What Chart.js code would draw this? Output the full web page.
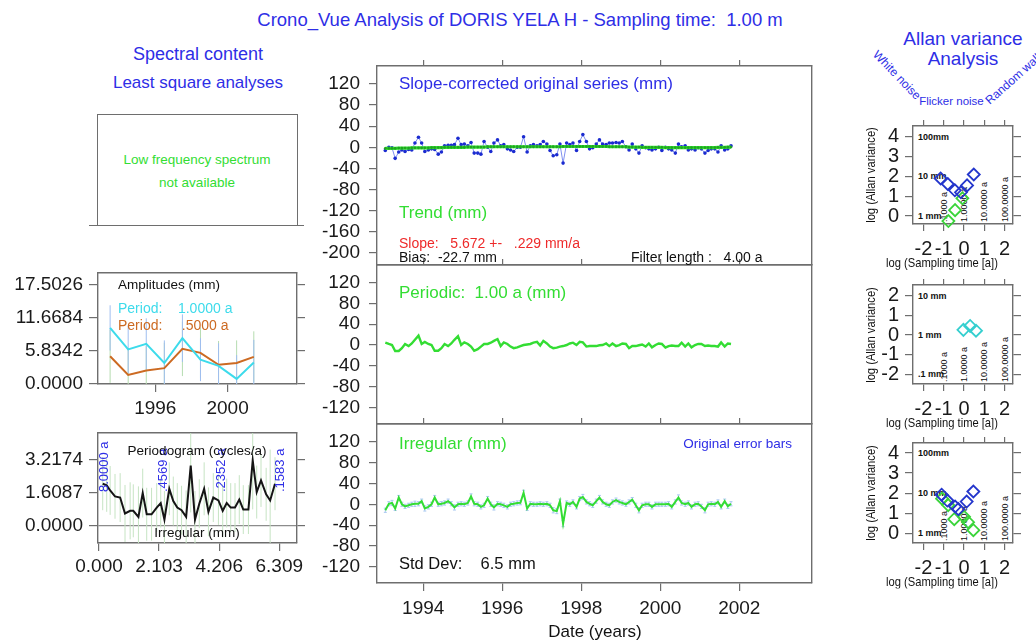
<!DOCTYPE html>
<html><head><meta charset="utf-8">
<script src="https://cdn.jsdelivr.net/npm/chart.js@4.4.1/dist/chart.umd.min.js"></script>
<style>
html,body{margin:0;padding:0;background:#fff;}
body{position:relative;width:1036px;height:641px;overflow:hidden;}
</style></head><body>
<script>
// ---------------- DATA ----------------
const DATES = [
1993.04,1993.13,1993.21,1993.29,1993.38,1993.46,1993.54,1993.63,1993.71,1993.79,1993.88,1993.96,
1994.04,1994.13,1994.21,1994.29,1994.38,1994.46,1994.54,1994.63,1994.71,1994.79,1994.88,1994.96,
1995.04,1995.13,1995.21,1995.29,1995.38,1995.46,1995.54,1995.63,1995.71,1995.79,1995.88,1995.96,
1996.04,1996.13,1996.21,1996.29,1996.38,1996.46,1996.54,1996.63,1996.71,1996.79,1996.88,1996.96,
1997.04,1997.13,1997.21,1997.29,1997.38,1997.46,1997.54,1997.63,1997.71,1997.79,1997.88,1997.96,
1998.04,1998.13,1998.21,1998.29,1998.38,1998.46,1998.54,1998.63,1998.71,1998.79,1998.88,1998.96,
1999.04,1999.13,1999.21,1999.29,1999.38,1999.46,1999.54,1999.63,1999.71,1999.79,1999.88,1999.96,
2000.04,2000.13,2000.21,2000.29,2000.38,2000.46,2000.54,2000.63,2000.71,2000.79,2000.88,2000.96,
2001.04,2001.13,2001.21,2001.29,2001.38,2001.46,2001.54,2001.63,2001.71,2001.79];

const ORIGINAL = [-6,0,-1,-21,-9,-5,-8,-4,-5,8, 19,8,-8,-5,-3,-4,-13,-9,3,4, 4,5,17,5,6,3,9,-11,-11,-13,
 11,0,-8,8,14,3,5,-3,-5,-8, 0,0,20,-9,3,5,3,5,11,6, -6,-16,-14,6,-30,8,5,8,-6,11,
 24,11,-3,-1,6,14,6,5,8,8, 9,8,11,1,-5,6,-3,-11,3,-1, -3,-5,-3,0,-6,0,-3,-5,-11,6,
 1,3,-5,-3,-5,-1,-3,-11,-6,-3, -3,-9,3,-5,-3,3];

const TREND = [-2,-2,-2,-2,-1.5,-1.5,-1.5,-1.5,-1,-1,-1,-1,
 -1,-1,-0.5,-0.5,-0.5,-0.5,0,0,0,0,0,0,
 0,0.5,0.5,0.5,0.5,0.5,0.5,1,1,1,1,1,
 1,1,1,1,1,1,1,1,1,1,1,1,
 1,1,1,1,1,1,1.5,1.5,1.5,1.5,1.5,1.5,
 1.5,1.5,1.5,1.5,1.5,1.5,1.5,1.5,1,1,1,1,
 1,1,0.5,0.5,0.5,0.5,0,0,0,0,0,0,
 0,-0.5,-0.5,-0.5,-0.5,-0.5,-0.5,-0.5,-0.5,-0.5,-0.5,-0.5,
 -0.5,-0.5,-0.5,-0.5,-0.5,0,0,0,0.5,0.5];

const PERIODIC = [4.5,2,0,-11.5,-11.5,-6,2,-2,3,10, 18,2,6,2,0,-11,-11,-6,2,-2,
 3,10,17,0,5,2,-3,-11,-8,-3, 2,2,4.5,8,11.5,-2,5,2,-3,-6,
 -4.5,-2,0,1,2,4.5,6,-1,8,3, -3,-6,-5,-3,-2,0,3,4.5,0,6,
 5,-3,-2,-2,-2,-0.5,0,3,-2,3, -2,0,3,2,-6,-2,-2,-0.5,1,-3,
 3,-4.5,0,3,2,-5,-2,-1,-2,-2, 4.5,-3,3,-4.5,0,2,2,-2,-1,-2,
 -2,-3,5,-3,3,2];

const IRREGULAR = [-11.5,1,2.5,-8,13,0,-4,-2,0,1, 1,6,-8,-5,0,13,0,1,2.5,6,
 1,-6,0,1,0,2.5,15,1,0,-5, -2,11,0,-6,1,0,-2,-5,0,1,
 2.5,3,22,-8,1,0,0,1,0,1, -2,-11.5,-13,6,-37,2.5,0,4.5,-5,11,
 14,4.5,1,-2,6,13,4.5,0,-2,4.5, 8,4.5,2.5,0,4.5,9,-2,-11.5,-2,0,
 0,-5,0,0,0,0,1,-5,4.5,13, 2.5,0,2.5,-5,0,1,-4,-11.5,0,1,
 0,4.5,-5,6,-4,1];

const IRREGULAR_ERR = [4,4,5,4,4,4,4,4,4,5, 4,4,5,4,4,4,4,4,4,4, 4,5,4,4,4,4,5,4,4,4,
 4,4,4,5,4,4,4,4,4,4, 4,4,5,4,4,4,4,4,4,4, 4,5,5,4,6,4,4,4,4,4,
 5,4,4,4,4,4,4,4,4,4, 4,4,4,4,4,4,4,5,4,4, 4,4,4,4,4,4,4,4,4,5,
 4,4,4,4,4,4,4,5,4,4, 4,4,4,4,4,4];

// Amplitudes panel
const AMP_DATES = [1993.5,1994.5,1995.5,1996.5,1997.5,1998.5,1999.5,2000.5,2001.45];
const AMP_1Y = [9.9,6.1,7.1,3.7,8.1,4.3,3.2,0.9,3.8];
const AMP_1Y_ERR = [4.0,4.2,4.5,4.0,4.2,3.8,4.0,4.2,4.0];
const AMP_HALFY = [4.9,1.6,2.4,2.8,6.2,5.5,3.4,3.7,4.8];
const AMP_HALFY_ERR = [4.7,4.5,4.3,4.5,4.8,4.5,4.2,4.0,4.5];
const AMP_YTICKS = [0, 5.8342, 11.6684, 17.5026];
const AMP_XTICKS = [1996, 2000];

// Periodogram panel
const PG_FREQ = [0.13,0.27,0.39,0.56,0.74,0.91,1.09,1.2,1.38,1.53,1.67,1.84,2.02,2.16,2.29,2.46,2.6,2.74,2.89,3.05,
 3.21,3.36,3.51,3.68,3.83,4.0,4.18,4.33,4.47,4.61,4.76,4.91,5.05,5.23,5.38,5.52,5.67,5.85,5.99,6.16];
const PG_VAL = [2.05,1.97,1.72,1.43,1.37,0.59,0.72,0.72,0.42,1.59,0.55,0.55,0.88,1.1,0.29,1.8,1.2,0.88,0.75,0.42,
 2.94,0.29,1.07,1.8,0.67,1.37,1.23,0.72,1.1,0.88,0.88,1.27,0.78,0.78,3.19,1.64,2.21,1.53,1.23,2.05];
const PG_ERR = [1.3,1.3,1.2,1.1,1.2,1.4,1.4,1.3,1.5,1.2,1.3,1.3,1.2,1.2,1.4,1.3,1.2,1.2,1.2,1.3,
 2.3,1.4,1.2,1.3,1.2,1.2,1.2,1.3,1.2,1.2,1.2,1.2,1.2,1.2,2.4,1.3,1.3,1.3,2.5,1.3];
const PG_YTICKS = [0, 1.6087, 3.2174];
const PG_XTICKS = [0, 2.103, 4.206, 6.309];
const PG_MARKS = [[0.125,'8.0000 a'],[2.189,'.4569 a'],[4.252,'.2352 a'],[6.317,'.1583 a']];

// Main panels
const YEAR_TICKS = [1994,1996,1998,2000,2002];
const TOP_YTICKS = [120,80,40,0,-40,-80,-120,-160,-200];
const MID_YTICKS = [120,80,40,0,-40,-80,-120];

// Allan variance panels
const ALLAN_XTICKS = [-2,-1,0,1,2];
const ALLAN_YTICKS_A = [0,1,2,3,4];
const ALLAN_YTICKS_B = [-2,-1,0,1,2];
const ALLAN1_BLUE_X = [-1.15,-0.8,-0.45,-0.15,0.15,0.48];
const ALLAN1_BLUE_Y = [1.9,1.62,1.3,1.2,1.55,2.1];
const ALLAN1_GREEN_X = [-0.77,-0.44,-0.08];
const ALLAN1_GREEN_Y = [-0.25,0.3,0.9];
const ALLAN2_CYAN_X = [-0.03,0.3,0.59];
const ALLAN2_CYAN_Y = [0.26,0.46,0.22];
const ALLAN3_BLUE_X = [-1.1,-0.82,-0.44,-0.28,0.13,0.46];
const ALLAN3_BLUE_Y = [1.92,1.63,1.33,1.2,1.58,2.08];
const ALLAN3_GREEN_X = [-1.08,-0.78,-0.48,0.0,0.2,0.46];
const ALLAN3_GREEN_Y = [1.72,1.4,0.7,0.82,0.55,0.15];
const ALLAN_MM_A = [[4,'100mm'],[2,'10 mm'],[0,'1 mm']];
const ALLAN_MM_B = [[2,'10 mm'],[0,'1 mm'],[-2,'.1 mm']];
const ALLAN_PERIODS = [[-1,'.1000 a'],[0,'1.0000 a'],[1,'10.0000 a'],[2,'100.0000 a']];

// ---------------- STYLE / HELPERS ----------------
const FONT = "'Liberation Sans', Arial, Helvetica, sans-serif";
const FRAME = '#6e6e6e';
const BLUE = '#2e2ee6';
const GREEN = '#33dd33';

function T(s, x, y, o = {}) {
  const d = document.createElement('div');
  d.textContent = s;
  d.style.cssText = `position:absolute;left:${x}px;top:${y}px;white-space:pre;font-family:${FONT};` +
    `font-size:${o.fs || 14}px;color:${o.c || '#111'};line-height:1;font-weight:${o.fw || 'normal'};z-index:${o.z ?? 3};`;
  const ax = o.a === 'c' ? '-50%' : o.a === 'r' ? '-100%' : '0';
  d.style.transform = `translate(${ax},-50%)` + (o.rot ? ` rotate(${o.rot}deg)` : '') + (o.sx ? ` scaleX(${o.sx})` : '');
  document.body.appendChild(d);
  return d;
}
// text starting at (x,y) and running along angle deg (negative = upward)
function TR(s, x, y, deg, o = {}) {
  const d = document.createElement('div');
  d.textContent = s;
  d.style.cssText = `position:absolute;left:${x}px;top:${y}px;white-space:pre;font-family:${FONT};` +
    `font-size:${o.fs || 12}px;color:${o.c || '#111'};line-height:1;font-weight:${o.fw || 'normal'};z-index:${o.z ?? 3};` +
    `transform-origin:0 0;transform:rotate(${deg}deg) translate(0,-50%);`;
  document.body.appendChild(d);
  return d;
}

function mkAxis(pos, size, o) {
  const horiz = pos === 'top' || pos === 'bottom';
  const tl = o.tl || 0;
  return {
    type: 'linear', position: pos, min: o.min, max: o.max,
    afterFit(s) {
      if (horiz) s.height = size; else s.width = size;
      s.paddingLeft = 0; s.paddingRight = 0; s.paddingTop = 0; s.paddingBottom = 0;
    },
    afterBuildTicks(s) { s.ticks = (o.ticks || []).map(v => ({ value: v })); },
    border: { display: true, color: FRAME, width: 1.4 },
    grid: {
      drawOnChartArea: !!o.zeroLine,
      color: o.zeroLine ? (c => (c.tick && c.tick.value === 0) ? '#8c8c8c' : 'rgba(0,0,0,0)') : FRAME,
      drawTicks: tl > 0, tickLength: tl, tickColor: FRAME, lineWidth: 1.2
    },
    ticks: {
      display: !!o.labels, padding: o.pad ?? 6, color: '#1a1a1a',
      font: { family: FONT, size: o.fs || 19 }, maxRotation: 0, minRotation: 0, autoSkip: false,
      callback: o.fmt || (v => String(v))
    }
  };
}

function panel(rect, area, axes, datasets, plugins) {
  const [cx, cy, cw, ch] = rect;
  const cv = document.createElement('canvas');
  cv.width = cw; cv.height = ch;
  cv.style.cssText = `position:absolute;left:${cx}px;top:${cy}px;width:${cw}px;height:${ch}px;z-index:1;`;
  document.body.appendChild(cv);
  const [L, Tp, R, B] = area;
  const scales = {
    x: mkAxis('bottom', cy + ch - B, axes.x),
    x2: mkAxis('top', Tp - cy, axes.x2),
    y: mkAxis('left', L - cx, axes.y),
    y2: mkAxis('right', cx + cw - R, axes.y2)
  };
  const chart = new Chart(cv, {
    type: 'line',
    data: { datasets },
    options: {
      responsive: false, animation: false, devicePixelRatio: 1,
      layout: { padding: 0 },
      plugins: { legend: { display: false }, tooltip: { enabled: false } },
      scales
    },
    plugins: plugins || []
  });
  chart.$off = [cx, cy];
  return chart;
}

function pts(xs, ys) { return xs.map((x, i) => ({ x, y: ys[i] })); }

function errPlugin(sets) {
  return {
    id: 'errbars',
    beforeDatasetsDraw(chart) {
      const { ctx, chartArea: a } = chart;
      const xs = chart.scales.x, ys = chart.scales.y;
      ctx.save();
      ctx.beginPath(); ctx.rect(a.left, a.top, a.width, a.height); ctx.clip();
      for (const s of sets) {
        ctx.strokeStyle = s.color; ctx.lineWidth = s.w || 1;
        ctx.beginPath();
        s.xs.forEach((xv, i) => {
          const px = xs.getPixelForValue(xv);
          const y0 = ys.getPixelForValue(s.ys[i] - s.es[i]);
          const y1 = ys.getPixelForValue(s.ys[i] + s.es[i]);
          ctx.moveTo(px, y0); ctx.lineTo(px, y1);
          if (s.cap) {
            ctx.moveTo(px - s.cap, y0); ctx.lineTo(px + s.cap, y0);
            ctx.moveTo(px - s.cap, y1); ctx.lineTo(px + s.cap, y1);
          }
        });
        ctx.stroke();
      }
      ctx.restore();
    }
  };
}

// ---------------- MAIN TIME-SERIES PANELS ----------------
const XR = { min: 1992.83, max: 2003.84 };
const lineDs = (xs, ys, color, w, extra = {}) => Object.assign({
  data: pts(xs, ys), borderColor: color, borderWidth: w, pointRadius: 0, tension: 0, fill: false
}, extra);

// top: slope-corrected original series + trend
panel([300, 50, 530, 225], [377, 66, 812, 265], {
  x: Object.assign({ ticks: [] }, XR),
  x2: Object.assign({ ticks: YEAR_TICKS, tl: 6 }, XR),
  y: { min: -223, max: 154, ticks: TOP_YTICKS, labels: true, tl: 8, pad: 9 },
  y2: { min: -223, max: 154, ticks: [] }
}, [
  lineDs(DATES, TREND, GREEN, 3.2, { pointRadius: 1.4, pointBackgroundColor: '#1fa51f', pointBorderWidth: 0 }),
  lineDs(DATES, ORIGINAL, '#7f8ff0', 1, { pointRadius: 1.8, pointBackgroundColor: '#1b2bd0', pointBorderWidth: 0 })
]);

// middle: periodic
panel([300, 255, 530, 180], [377, 265, 812, 424], {
  x: Object.assign({ ticks: [] }, XR),
  x2: Object.assign({ ticks: YEAR_TICKS, tl: 6 }, XR),
  y: { min: -152, max: 154, ticks: MID_YTICKS, labels: true, tl: 8, pad: 9 },
  y2: { min: -152, max: 154, ticks: [] }
}, [ lineDs(DATES, PERIODIC, GREEN, 2.4) ]);

// bottom: irregular
panel([300, 414, 530, 227], [377, 424, 812, 583], {
  x: Object.assign({ ticks: YEAR_TICKS, labels: true, tl: 8, pad: 6 }, XR),
  x2: Object.assign({ ticks: YEAR_TICKS, tl: 6 }, XR),
  y: { min: -151, max: 154, ticks: MID_YTICKS, labels: true, tl: 8, pad: 9 },
  y2: { min: -151, max: 154, ticks: [] }
}, [ lineDs(DATES, IRREGULAR, GREEN, 2) ],
[ errPlugin([{ xs: DATES, ys: IRREGULAR, es: IRREGULAR_ERR, color: '#a9c8f0', w: 1, cap: 1.5 }]) ]);

// ---------------- LEFT SPECTRAL PANELS ----------------
(function () {
  const box = document.createElement('div');
  box.style.cssText = `position:absolute;left:97px;top:114px;width:199px;height:110px;border:1.4px solid ${FRAME};border-bottom:none;`;
  document.body.appendChild(box);
  const ln = document.createElement('div');
  ln.style.cssText = `position:absolute;left:89px;top:224.5px;width:215px;height:0;border-top:1.4px solid ${FRAME};`;
  document.body.appendChild(ln);
})();

panel([0, 262, 320, 164], [98, 273, 297, 384], {
  x: Object.assign({ ticks: AMP_XTICKS, labels: true, tl: 8, pad: 5 }, XR),
  x2: Object.assign({ ticks: [] }, XR),
  y: { min: 0, max: 19.6, ticks: AMP_YTICKS, labels: true, tl: 9, pad: 6, fmt: v => v.toFixed(4) },
  y2: { min: 0, max: 19.6, ticks: AMP_YTICKS, tl: 8 }
}, [
  lineDs(AMP_DATES, AMP_1Y, '#3ddbeb', 2),
  lineDs(AMP_DATES, AMP_HALFY, '#cc6a22', 2)
], [ errPlugin([
  { xs: AMP_DATES, ys: AMP_HALFY, es: AMP_HALFY_ERR, color: '#b5dcb0', w: 1 },
  { xs: AMP_DATES, ys: AMP_1Y, es: AMP_1Y_ERR, color: '#9fbef0', w: 1 }
]) ]);

const pg = panel([0, 420, 320, 172], [98, 433, 297, 543], {
  x: { min: -0.035, max: 6.93, ticks: PG_XTICKS, labels: true, tl: 8, pad: 4, fmt: v => v.toFixed(3) },
  x2: { min: -0.035, max: 6.93, ticks: [] },
  y: { min: -0.86, max: 4.54, ticks: PG_YTICKS, labels: true, tl: 9, pad: 6, fmt: v => v.toFixed(4), zeroLine: true },
  y2: { min: -0.86, max: 4.54, ticks: PG_YTICKS, tl: 8 }
}, [ lineDs(PG_FREQ, PG_VAL, '#151515', 2) ],
[ errPlugin([{ xs: PG_FREQ, ys: PG_VAL, es: PG_ERR, color: '#c6e4c3', w: 1 }]) ]);

// ---------------- ALLAN VARIANCE PANELS ----------------
const diamonds = (xs, ys, color) => ({
  data: pts(xs, ys), showLine: false, pointStyle: 'rectRot', pointRadius: 6,
  pointBorderColor: color, pointBackgroundColor: 'rgba(0,0,0,0)', pointBorderWidth: 1.8,
  borderColor: color, clip: false
});
function allan(rect, area, ymin, ymax, yticks, datasets) {
  const ax = { min: -2.51, max: 2.41 };
  return panel(rect, area, {
    x: Object.assign({ ticks: ALLAN_XTICKS, labels: true, tl: 7, pad: 6, fs: 20 }, ax),
    x2: Object.assign({ ticks: ALLAN_XTICKS, tl: 6 }, ax),
    y: { min: ymin, max: ymax, ticks: yticks, labels: true, tl: 8, pad: 6, fs: 20 },
    y2: { min: ymin, max: ymax, ticks: yticks, tl: 8 }
  }, datasets);
}
const a1 = allan([850, 112, 186, 160], [913, 126, 1013, 224], -0.4, 4.55, ALLAN_YTICKS_A, [
  diamonds(ALLAN1_BLUE_X, ALLAN1_BLUE_Y, '#2436cc'),
  diamonds(ALLAN1_GREEN_X, ALLAN1_GREEN_Y, '#3ad43a')
]);
const a2 = allan([850, 271, 186, 160], [913, 285, 1013, 384], -2.49, 2.54, ALLAN_YTICKS_B, [
  diamonds(ALLAN2_CYAN_X, ALLAN2_CYAN_Y, '#35cfcf')
]);
const a3 = allan([850, 429, 186, 160], [913, 443, 1013, 543], -0.49, 4.5, ALLAN_YTICKS_A, [
  diamonds(ALLAN3_BLUE_X, ALLAN3_BLUE_Y, '#2436cc'),
  diamonds(ALLAN3_GREEN_X, ALLAN3_GREEN_Y, '#3ad43a')
]);

function allanTexts(ch, mm) {
  const [cx, cy] = ch.$off;
  const xs = ch.scales.x, ys = ch.scales.y;
  mm.forEach(([v, s]) => T(s, cx + xs.left + 5, cy + ys.getPixelForValue(v), { fs: 9, fw: 'bold', z: 0 }));
  ALLAN_PERIODS.forEach(([lv, s]) => TR(s, cx + xs.getPixelForValue(lv), cy + ys.bottom - 2, -90, { fs: 9, z: 0 }));
  const mid = (ys.top + ys.bottom) / 2;
  T('log (Allan variance)', cx + 20, cy + mid, { a: 'c', fs: 13, rot: -90, sx: 0.86 });
  T('log (Sampling time [a])', 941.5, cy + ys.bottom + 37.5, { a: 'c', fs: 13, sx: 0.86 });
}
allanTexts(a1, ALLAN_MM_A);
allanTexts(a2, ALLAN_MM_B);
allanTexts(a3, ALLAN_MM_A);

// periodogram period marks
(function () {
  const [cx, cy] = pg.$off;
  PG_MARKS.forEach(([f, s]) => TR(s, cx + pg.scales.x.getPixelForValue(f), 492, -90, { fs: 13, c: BLUE }));
})();

// ---------------- TEXTS ----------------
T('Crono_Vue Analysis of DORIS YELA H - Sampling time:  1.00 m', 520, 20, { a: 'c', fs: 18.5, c: BLUE });
T('Spectral content', 198, 54, { a: 'c', fs: 18, c: BLUE });
T('Least square analyses', 198, 82, { a: 'c', fs: 17, c: BLUE });
T('Low frequency spectrum', 197, 160, { a: 'c', fs: 13.5, c: GREEN });
T('not available', 197, 183, { a: 'c', fs: 13.5, c: GREEN });
T('Amplitudes (mm)', 118, 285, { fs: 13.5 });
T('Period:    1.0000 a', 118, 307.5, { fs: 14, c: '#3ddbeb' });
T('Period:     .5000 a', 118, 325, { fs: 14, c: '#cc6a22' });
T('Periodogram (cycles/a)', 197, 450.5, { a: 'c', fs: 13.5 });
T('Irregular (mm)', 197, 532.5, { a: 'c', fs: 13.5 });

T('Slope-corrected original series (mm)', 399, 82.7, { fs: 17, c: BLUE });
T('Trend (mm)', 399, 212, { fs: 17, c: GREEN });
T('Slope:   5.672 +-   .229 mm/a', 399, 242.5, { fs: 14, c: '#ee2a2a' });
T('Bias:  -22.7 mm', 399, 256.5, { fs: 14 });
T('Filter length :   4.00 a', 631, 256.5, { fs: 14 });
T('Periodic:  1.00 a (mm)', 399, 292.3, { fs: 17, c: GREEN });
T('Irregular (mm)', 399, 442.7, { fs: 17, c: GREEN });
T('Original error bars', 792, 444, { a: 'r', fs: 13.5, c: BLUE });
T('Std Dev:    6.5 mm', 399, 563.3, { fs: 16.5 });
T('Date (years)', 595, 631, { a: 'c', fs: 17 });

T('Allan variance', 963, 38, { a: 'c', fs: 19, c: BLUE });
T('Analysis', 963, 58, { a: 'c', fs: 19, c: BLUE });
T('White noise', 897, 75, { a: 'c', fs: 12, c: BLUE, rot: 46 });
T('Flicker noise', 951.5, 101.5, { a: 'c', fs: 11.5, c: BLUE });
TR('Random walk', 987, 102, -41.5, { fs: 12, c: BLUE });
</script>
</body></html>
